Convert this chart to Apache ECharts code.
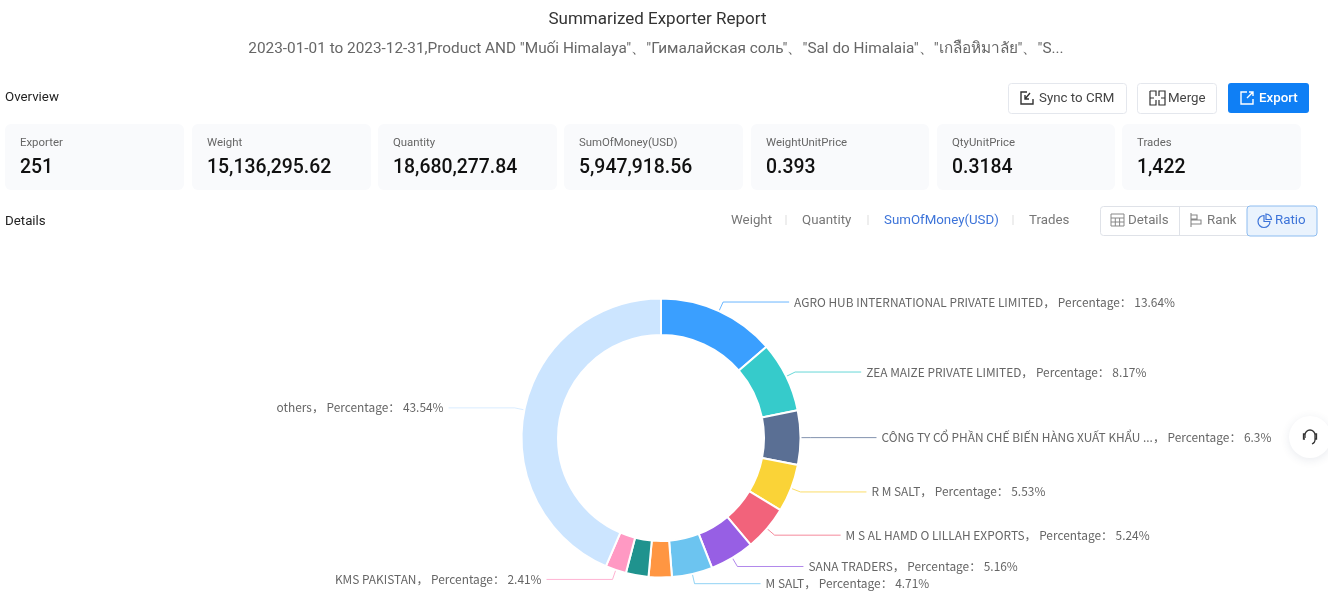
<!DOCTYPE html>
<html><head><meta charset="utf-8">
<style>html,body{margin:0;padding:0;background:#fff;overflow:hidden}#c{width:1328px;height:600px}</style>
<script src="https://cdn.jsdelivr.net/npm/echarts@6/dist/echarts.min.js"></script>
</head><body><div id="c"></div>
<script>
const titleText = 'Summarized Exporter Report';
const subtitleText = '2023-01-01 to 2023-12-31,Product AND "Muối Himalaya"、"Гималайская соль"、"Sal do Himalaia"、"เกลือหิมาลัย"、"S...';
const cardLabels = ['Exporter','Weight','Quantity','SumOfMoney(USD)','WeightUnitPrice','QtyUnitPrice','Trades'];
const cardValues = ['251','15,136,295.62','18,680,277.84','5,947,918.56','0.393','0.3184','1,422'];
const metricTabs = ['Weight','Quantity','SumOfMoney(USD)','Trades'];
const viewTabs = ['Details','Rank','Ratio'];
const sliceNames = ['AGRO HUB INTERNATIONAL PRIVATE LIMITED','ZEA MAIZE PRIVATE LIMITED','CÔNG TY CỔ PHẦN CHẾ BIẾN HÀNG XUẤT KHẨU ...','R M SALT','M S AL HAMD O LILLAH EXPORTS','SANA TRADERS','M SALT','','','KMS PAKISTAN','others'];
const sliceValues = [13.64,8.17,6.3,5.53,5.24,5.16,4.71,2.68,2.62,2.41,43.54];
const sliceColors = ['#3a9fff','#36cbcb','#5a6f94','#fad337','#f2637b','#975fe4','#6cc4f0','#ff9642','#1f938e','#ff99c3','#cce5ff'];

const UI = 'Roboto, sans-serif';
const g = [];
let iconId = 0;
const text = (x,y,t,size,color,o={}) => g.push({type:'text',x,y,silent:true,style:{text:t,font:`${o.weight||400} ${size}px ${o.family||UI}`,fill:color,textAlign:o.align||'left',textVerticalAlign:'middle'}});
const rect = (x,y,w,h,r,fill,stroke) => g.push({type:'rect',silent:true,shape:{x,y,width:w,height:h,r},style:{fill,stroke:stroke||null,lineWidth:stroke?1:0}});
const line = (x1,y1,x2,y2,c,lw=1) => g.push({type:'line',silent:true,shape:{x1,y1,x2,y2},style:{stroke:c,lineWidth:lw}});
const icon = (x,y,d,c,lw=1.4) => {
  const name = 'uiIcon' + (iconId++);
  echarts.graphic.registerShape(name, echarts.graphic.extendPath(d, {}));
  g.push({type:name,silent:true,x,y,style:{fill:null,stroke:c,lineWidth:lw}});
};

text(657.5,19.5,titleText,17,'#333',{align:'center'});
text(656,49,subtitleText,15.35,'#666',{align:'center'});
text(5,98,'Overview',13.3,'#222');
text(5,221.5,'Details',13.3,'#222');

const cardX = [5,192,378,564,751,937,1122], cardW = [179,179,179,179,178,178,179];
cardLabels.forEach((l,i)=>{
  rect(cardX[i],124,cardW[i],66,6,'#f9fafc');
  text(cardX[i]+15,143.5,l,11.4,'#666');
  text(cardX[i]+15,168,cardValues[i],19.4,'#111',{weight:500});
});

rect(1008.5,83.5,118,30,3,'#fff','#e4e7ed');
rect(1137.5,83.5,79,30,3,'#fff','#e4e7ed');
rect(1228,83,81,30,3,'#0f7ff5');
text(1039,99,'Sync to CRM',13.3,'#444');
text(1168,99,'Merge',13.3,'#444');
text(1259,99,'Export',13.3,'#fff',{weight:500});
icon(1021,92,'M6 0H0V12H12V7M4 7L9 1M4 3V7H8','#333');
icon(1150,91,'M0 0H6V5M6 9V14H0V0M9 5V0H15V14H9V9M0 7H4M15 7H11','#333',1.2);
icon(1241,92,'M6 0H0V12H12V7M6 6L12 0M8 0H12V4','#fff');

const tabX = [731,802,884,1029], tabC = ['#777','#777','#3d74d9','#777'];
metricTabs.forEach((t,i)=>text(tabX[i],221,t,13.3,tabC[i]));
[786,868,1013].forEach(x=>line(x,215,x,225,'#ddd'));

rect(1100.5,206.5,216,29,3,'#fff','#dfe2e8');
rect(1247,206,70,30,3,'#eaf3fd','#8dbcf0');
line(1179.5,206,1179.5,236,'#dfe2e8');
const viewX = [1128,1207,1275], viewC = ['#777','#777','#3d74d9'];
viewTabs.forEach((t,i)=>text(viewX[i],221,t,13.3,viewC[i]));
icon(1111,214,'M0 0H13V12H0ZM0 4H13M0 8H13M4.3 4V12M8.6 4V12','#888',1);
icon(1190,213,'M1 0V14M1 2H7V6H1M1 7H11V11H1','#888',1.1);
icon(1258,214,'M6 1.5A6 6 0 1 0 12 7.5H6ZM8 0A6 6 0 0 1 13.5 5.5H8Z','#3d74d9',1.2);

g.push({type:'circle',silent:true,shape:{cx:1310,cy:437,r:21},style:{fill:'#fff',shadowBlur:10,shadowColor:'rgba(40,60,100,.10)',shadowOffsetY:2}});
icon(1302,429,'M3 9V6A5 5 0 0 1 13 6V10A5 5 0 0 1 10 15M3 5H1.5V10H3M13 5H14.5V10H13','#333',1.3);

const chart = echarts.init(document.getElementById('c'),null,{renderer:'canvas'});
chart.setOption({
  animation:false,
  graphic:{elements:g},
  series:[{
    type:'pie',
    center:[661,438],
    radius:[103,139.5],
    startAngle:90,
    clockwise:true,
    avoidLabelOverlap:false,
    z:5,
    itemStyle:{borderColor:'#fff',borderWidth:2},
    label:{show:true,formatter:'{b}， Percentage： {c}%',fontSize:11.9,color:'#666',fontFamily:'"Noto Sans CJK SC", sans-serif'},
    labelLine:{show:true,length:10,length2:66,lineStyle:{width:1,opacity:.75}},
    data:sliceNames.map((name,i)=>({name,value:sliceValues[i],itemStyle:{color:sliceColors[i]},label:{show:!!name},labelLine:{show:!!name}}))
  }]
});
</script></body></html>
